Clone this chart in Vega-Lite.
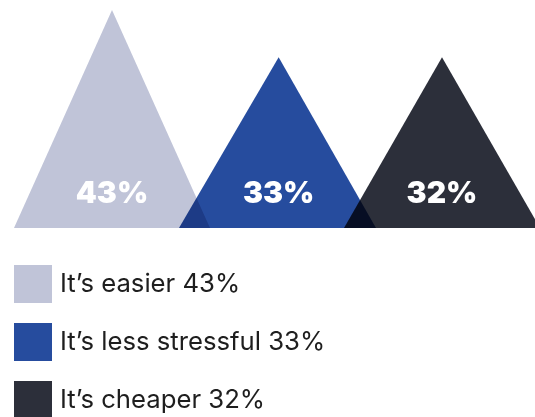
{
  "$schema": "https://vega.github.io/schema/vega-lite/v6.json",
  "width": 535,
  "height": 417,
  "autosize": {"type": "none"},
  "padding": 0,
  "background": "white",
  "config": {"view": {"stroke": null}},
  "datasets": {
    "tri": [
      {"reason": "It’s easier 43%", "pos": 0.406, "h": 0},
      {"reason": "It’s easier 43%", "pos": 1.0, "h": 43},
      {"reason": "It’s easier 43%", "pos": 1.594, "h": 0},
      {"reason": "It’s less stressful 33%", "pos": 1.406, "h": 0},
      {"reason": "It’s less stressful 33%", "pos": 2.01, "h": 33.7},
      {"reason": "It’s less stressful 33%", "pos": 2.6, "h": 0},
      {"reason": "It’s cheaper 32%", "pos": 2.406, "h": 0},
      {"reason": "It’s cheaper 32%", "pos": 3.0, "h": 33.7},
      {"reason": "It’s cheaper 32%", "pos": 3.594, "h": 0}
    ],
    "labels": [
      {"pos": 1.0, "label": "43%"},
      {"pos": 2.01, "label": "33%"},
      {"pos": 3.0, "label": "32%"}
    ]
  },
  "layer": [
    {
      "data": {"name": "tri"},
      "mark": {"type": "area", "interpolate": "linear", "blend": "multiply", "opacity": 1},
      "encoding": {
        "x": {"field": "pos", "type": "quantitative", "scale": {"domain": [0.3212, 3.5636], "nice": false, "zero": false}, "axis": null},
        "y": {"field": "h", "type": "quantitative", "stack": null, "scale": {"domain": [-37.28, 44.97], "nice": false, "zero": false}, "axis": null},
        "color": {
          "field": "reason",
          "type": "nominal",
          "sort": null,
          "scale": {
            "domain": ["It’s easier 43%", "It’s less stressful 33%", "It’s cheaper 32%"],
            "range": ["#c0c4d8", "#264c9e", "#2c2f3a"]
          },
          "legend": {
            "orient": "none",
            "legendX": 14,
            "legendY": 265,
            "title": null,
            "padding": 0,
            "offset": 0,
            "symbolType": "square",
            "symbolSize": 1444,
            "symbolStrokeWidth": 0,
            "symbolOpacity": 1,
            "labelFont": "Inter",
            "labelFontSize": 25.7,
            "labelColor": "#1e1e1e",
            "labelOffset": 8,
            "labelLimit": 400,
            "rowPadding": 20
          }
        }
      }
    },
    {
      "data": {"name": "labels"},
      "mark": {"type": "text", "font": "Inter", "fontWeight": 900, "fontSize": 30, "color": "white", "align": "center", "baseline": "alphabetic", "dy": -25},
      "encoding": {
        "x": {"field": "pos", "type": "quantitative"},
        "y": {"datum": 0},
        "text": {"field": "label"}
      }
    }
  ]
}
